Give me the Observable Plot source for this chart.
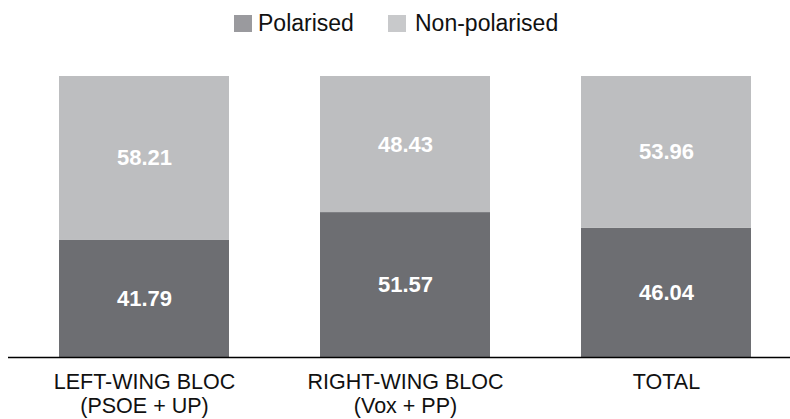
<!DOCTYPE html>
<html>
<head>
<meta charset="utf-8">
<script src="https://cdn.jsdelivr.net/npm/d3@7"></script>
<script src="https://cdn.jsdelivr.net/npm/@observablehq/plot@0.6"></script>
<style>
  body { margin: 0; background: #fff; width: 790px; height: 419px; overflow: hidden; }
  #legend { position: relative; height: 46px; font-family: "Liberation Sans", Arial, sans-serif; font-size: 23px; color: #111; }
  .sw { position: absolute; top: 15px; width: 18px; height: 17px; }
  .lb { position: absolute; top: 10px; line-height: 26px; }
</style>
</head>
<body>
<div id="legend"></div>
<div id="chart"></div>
<script>
const categories = ["LEFT-WING BLOC\n(PSOE + UP)", "RIGHT-WING BLOC\n(Vox + PP)", "TOTAL"];
const series = ["Polarised", "Non-polarised"];
const polarised = [41.79, 51.57, 46.04];
const nonPolarised = [58.21, 48.43, 53.96];
const barColors = ["#6d6e72", "#bdbec0"];
const legendColors = ["#9a9a9e", "#c8c9cb"];

const data = [];
categories.forEach((c, i) => {
  data.push({category: c, series: series[0], value: polarised[i]});
  data.push({category: c, series: series[1], value: nonPolarised[i]});
});

// legend
const legend = document.getElementById("legend");
const legendPos = [[234, 258], [388, 415]];
series.forEach((s, i) => {
  const sw = document.createElement("div");
  sw.className = "sw";
  sw.style.left = legendPos[i][0] + "px";
  sw.style.background = legendColors[i];
  const lb = document.createElement("div");
  lb.className = "lb";
  lb.style.left = legendPos[i][1] + "px";
  lb.textContent = s;
  legend.append(sw, lb);
});

const chart = Plot.plot({
  width: 790,
  height: 373,
  marginLeft: 8,
  marginRight: 0,
  marginTop: 30,
  marginBottom: 62,
  style: {fontFamily: "'Liberation Sans', Arial, sans-serif", background: "#fff"},
  x: {domain: categories, range: [58, 751], paddingInner: 0.35, paddingOuter: 0},
  y: {domain: [0, 100], axis: null},
  color: {domain: series, range: barColors},
  marks: [
    Plot.barY(data, {x: "category", y: "value", fill: "series"}),
    Plot.text(data, Plot.stackY({
      x: "category", y: "value", z: "series",
      text: d => d.value.toFixed(2),
      fill: "white", fontWeight: "bold", fontSize: 22
    })),
    Plot.ruleY([0], {stroke: "#000", strokeWidth: 1.6}),
    Plot.axisX({
      tickSize: 0, tickPadding: 15, fontSize: 21.5, lineHeight: 1.1,
      fill: "#111", label: null
    })
  ]
});
document.getElementById("chart").append(chart);
</script>
</body>
</html>
